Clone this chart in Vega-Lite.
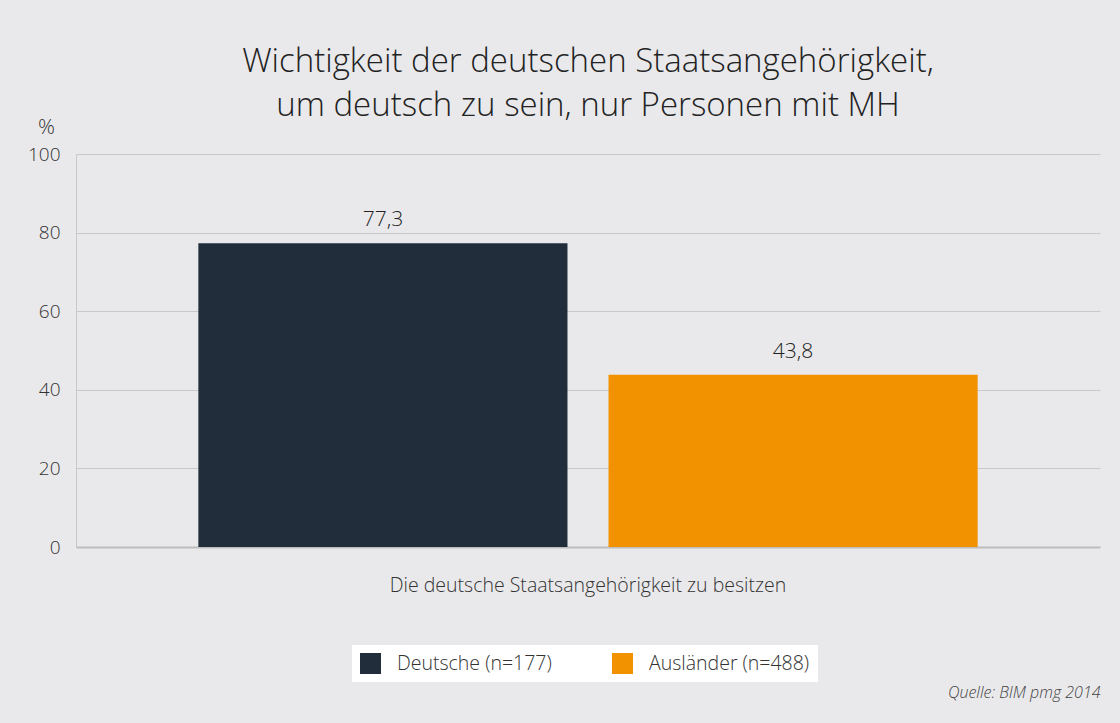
{
"$schema": "https://vega.github.io/schema/vega-lite/v6.json",
"width": 1024,
"height": 393,
"autosize": {"type": "none"},
"padding": {"left": 76, "top": 154, "right": 20, "bottom": 176},
"background": "#e9e9eb",
"config": {
  "view": {"stroke": null},
  "font": "Open Sans",
  "locale": {"number": {"decimal": ",", "thousands": ".", "grouping": [3], "currency": ["", " €"]}}
},
"title": {
  "text": ["Wichtigkeit der deutschen Staatsangehörigkeit,", "um deutsch zu sein, nur Personen mit MH"],
  "fontSize": 33,
  "fontWeight": 300,
  "color": "#222222",
  "anchor": "middle",
  "lineHeight": 44,
  "offset": -7
},
"data": {"values": [
  {"cat": "Die deutsche Staatsangehörigkeit zu besitzen", "group": "Deutsche (n=177)", "value": 77.3},
  {"cat": "Die deutsche Staatsangehörigkeit zu besitzen", "group": "Ausländer (n=488)", "value": 43.8}
]},
"encoding": {
  "x": {"field": "cat", "type": "nominal",
    "scale": {"paddingInner": 0, "paddingOuter": 0.157},
    "axis": {"labelAngle": 0, "labelFontSize": 19.5, "labelFontWeight": 300, "labelPadding": 29, "labelLimit": 0, "ticks": false,
      "domainColor": "#bdbdbd", "domainWidth": 2, "labelColor": "#333333",
      "title": "Quelle: BIM pmg 2014", "titleFontStyle": "italic", "titleFontSize": 16, "titleFontWeight": 300,
      "titleAnchor": "end", "titleX": 1024, "titleY": 137, "titleAlign": "right", "titleColor": "#444444"}},
  "xOffset": {"field": "group", "type": "nominal", "sort": ["Deutsche (n=177)", "Ausländer (n=488)"],
    "scale": {"paddingInner": 0.1, "paddingOuter": 0}},
  "y": {"field": "value", "type": "quantitative",
    "scale": {"domain": [0, 100]},
    "axis": {"values": [0, 20, 40, 60, 80, 100], "title": "%", "titleAngle": 0, "titleX": -30, "titleY": -21,
      "titleAlign": "center", "titleBaseline": "alphabetic", "titleFontSize": 21, "titleFontWeight": 300, "titleColor": "#333333",
      "labelFontSize": 19, "labelFontWeight": 300, "labelPadding": 16, "ticks": false, "labelColor": "#333333",
      "gridColor": "#c8c8c8", "domainColor": "#c8c8c8"}}
},
"layer": [
  {"mark": {"type": "bar"},
   "encoding": {"color": {"field": "group", "type": "nominal",
     "scale": {"domain": ["Deutsche (n=177)", "Ausländer (n=488)"], "range": ["#222d3b", "#f39200"]},
     "legend": {"orient": "none", "legendX": 276, "legendY": 491, "direction": "horizontal", "title": null,
       "fillColor": "white", "padding": 8, "symbolType": "square", "symbolSize": 441, "symbolStrokeWidth": 0,
       "symbolOpacity": 1, "labelFontSize": 19.5, "labelFontWeight": 300, "labelLimit": 0, "labelColor": "#333333", "labelOffset": 16, "columnPadding": 60}}}},
  {"mark": {"type": "text", "dy": -17, "fontSize": 21, "fontWeight": 300, "baseline": "alphabetic", "color": "#222222"},
   "encoding": {"text": {"field": "value", "type": "quantitative", "format": ".1f"}}}
]
}
